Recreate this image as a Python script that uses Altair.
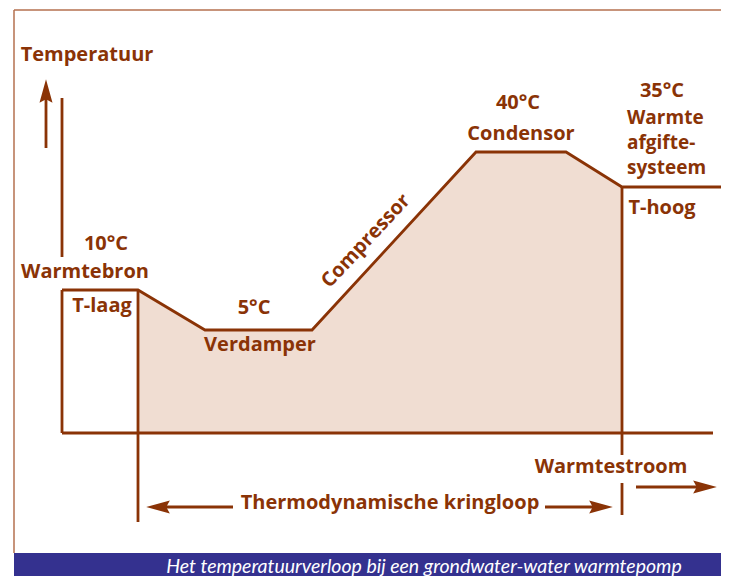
import altair as alt
import pandas as pd

# ---- schematic data (diagram units = picture pixels) ----
# temperature profile through the heat pump cycle
curve_x = [62, 138, 205, 312, 476, 566, 622, 721]
curve_y = [290, 290, 330, 330, 152, 152, 187, 187]
# shaded region under the cycle
fill_x = [138, 205, 312, 476, 566, 622]
fill_y = [290, 330, 330, 152, 152, 187]
base_y = 433

# other structural lines: (segment id, x list, y list)
segments = {
    "axis_top": ([62, 62], [98, 257]),
    "axis_low": ([62, 62], [290, 433]),
    "baseline": ([62, 713], [433, 433]),
    "cycle_left": ([138, 138], [290, 522]),
    "cycle_right_a": ([622, 622], [187, 455]),
    "cycle_right_b": ([622, 622], [483, 515]),
    "temp_arrow": ([46, 46], [98, 148]),
    "flow_arrow": ([636, 700], [487, 487]),
    "loop_left": ([162, 233], [507, 507]),
    "loop_right": ([545, 603], [507, 507]),
}
frame = {
    "top": ([14, 721], [10, 10]),
    "left": ([14, 14], [10, 553]),
}
UP = "M0,-1L0.55,1L0,0.7L-0.55,1Z"
RIGHT = "M1,0L-1,0.55L-0.7,0L-1,-0.55Z"
LEFT = "M-1,0L1,0.55L0.7,0L1,-0.55Z"
heads_x = [46, 705, 158, 601]
heads_y = [91, 487, 507, 507]
heads_shape = [UP, RIGHT, LEFT, RIGHT]

labels = ["Temperatuur", "10°C", "Warmtebron", "T-laag", "5°C", "Verdamper",
          "40°C", "Condensor", "35°C", "T-hoog", "Warmtestroom",
          "Thermodynamische kringloop"]
labels_x = [87, 106, 85, 102, 254, 260, 518, 521, 662, 662, 611, 390]
labels_y = [55, 244, 272, 306, 308, 345, 103, 134, 91, 208, 467, 503]

left_labels = ["Warmte", "afgifte-", "systeem"]
left_x = [627, 627, 627]
left_y = [118, 143, 168]

rot_label = ["Compressor"]
rot_x = [366]
rot_y = [241]

caption = "Het temperatuurverloop bij een grondwater-water warmtepomp"

# ---- build tables ----
curve_df = pd.DataFrame({"x": curve_x, "y": curve_y, "o": range(len(curve_x))})
fill_df = pd.DataFrame({"x": fill_x, "y": fill_y, "y2": [base_y] * len(fill_x)})
rows = []
for k, (xs, ys) in segments.items():
    for i, (a, b) in enumerate(zip(xs, ys)):
        rows.append({"seg": k, "o": i, "x": a, "y": b})
seg_df = pd.DataFrame(rows)
rows = []
for k, (xs, ys) in frame.items():
    for i, (a, b) in enumerate(zip(xs, ys)):
        rows.append({"seg": k, "o": i, "x": a, "y": b})
frame_df = pd.DataFrame(rows)
heads_df = pd.DataFrame({"x": heads_x, "y": heads_y, "shape": heads_shape})
lab_df = pd.DataFrame({"x": labels_x, "y": labels_y, "t": labels})
left_df = pd.DataFrame({"x": left_x, "y": left_y, "t": left_labels})
rot_df = pd.DataFrame({"x": rot_x, "y": rot_y, "t": rot_label})
bar_df = pd.DataFrame({"x": [14], "x2": [721], "y": [553], "y2": [576]})
cap_df = pd.DataFrame({"x": [424], "y": [567], "t": [caption]})

W, H = 713, 568
X = alt.X("x:Q", scale=alt.Scale(domain=[8, 8 + W], nice=False, zero=False), axis=None)
Y = alt.Y("y:Q", scale=alt.Scale(domain=[8, 8 + H], nice=False, zero=False, reverse=True), axis=None)

BROWN = "#8a3306"
FILL = "#f0ddd2"
FONT = "Open Sans"
FS = 20

bar = alt.Chart(bar_df).mark_rect(color="#34318f").encode(x=X, x2="x2:Q", y=Y, y2="y2:Q")
cap = alt.Chart(cap_df).mark_text(font="Lato", fontStyle="italic", fontSize=19.5, color="white",
                                  baseline="middle").encode(x=X, y=Y, text="t:N")
area = alt.Chart(fill_df).mark_area(color=FILL, opacity=1).encode(x=X, y=Y, y2="y2:Q")
frame_l = alt.Chart(frame_df).mark_line(color="#b5714f", strokeWidth=1.5).encode(
    x=X, y=Y, detail="seg:N", order="o:Q")
segs = alt.Chart(seg_df).mark_line(color=BROWN, strokeWidth=2.8).encode(
    x=X, y=Y, detail="seg:N", order="o:Q")
curve = alt.Chart(curve_df).mark_line(color=BROWN, strokeWidth=2.8).encode(x=X, y=Y, order="o:Q")
heads = alt.Chart(heads_df).mark_point(filled=True, color=BROWN, opacity=1, size=560,
                                       strokeWidth=0).encode(
    x=X, y=Y, shape=alt.Shape("shape:N", scale=None))
txt = alt.Chart(lab_df).mark_text(font=FONT, fontWeight="bold", fontSize=FS, color=BROWN,
                                  baseline="middle").encode(x=X, y=Y, text="t:N")
txt_l = alt.Chart(left_df).mark_text(font=FONT, fontWeight="bold", fontSize=19, color=BROWN,
                                     align="left", baseline="middle").encode(x=X, y=Y, text="t:N")
txt_r = alt.Chart(rot_df).mark_text(font=FONT, fontWeight="bold", fontSize=FS, color=BROWN,
                                    angle=313, baseline="middle").encode(x=X, y=Y, text="t:N")

chart = alt.layer(bar, cap, area, frame_l, segs, curve, heads, txt, txt_l, txt_r).properties(
    width=W, height=H, padding=0, autosize=alt.AutoSizeParams(type="none")
).configure_view(stroke=None)

chart.save("out.html", embed_options={"renderer": "svg", "actions": False})
